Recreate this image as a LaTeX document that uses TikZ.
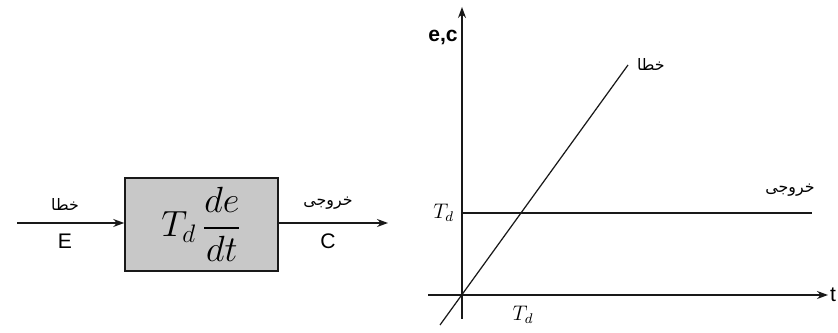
\documentclass[tikz,border=0pt]{standalone}
\usepackage{fontspec}
\usepackage{amsmath}
\usepackage{tikz}
\usetikzlibrary{arrows.meta, positioning, calc}
\setsansfont{Liberation Sans}
\newfontfamily\arabicfont[Script=Arabic]{DejaVu Sans}
\TeXXeTstate=1
\definecolor{boxgray}{RGB}{200,200,200}
\definecolor{inkdark}{RGB}{25,25,25}
\tikzset{
  sysbox/.style={rectangle, draw=inkdark, fill=boxgray, line width=0.9pt,
    minimum width=3.06cm, minimum height=1.86cm, inner sep=0pt},
  arrow/.style={-{Stealth[length=2.2mm, width=1.6mm]}, line width=0.7pt, color=inkdark},
  line/.style={line width=0.7pt, color=inkdark},
  fa/.style={font=\arabicfont\small, inner sep=1pt},
  lat/.style={font=\sffamily\large, inner sep=1pt}
}
\newcommand{\fatext}[1]{\beginR #1\endR}

\begin{document}
\begin{tikzpicture}[x=0.02cm, y=0.02cm]
  \useasboundingbox (0,0) rectangle (838,333);

  % block diagram
  \node[sysbox] (blk) at (201.5,108.5) {\huge $T_d\,\dfrac{de}{dt}$};
  \coordinate (in) at (17,110);
  \coordinate (out) at (388,110);
  \draw[arrow] (in) -- (in -| blk.west);
  \draw[arrow] (out -| blk.east) -- (out);

  \node[fa] (errin) at (65,128) {\fatext{خطا}};
  \node[lat] (ein) at (65,92) {E};
  \node[fa] (outlbl) at (328,130) {\fatext{خروجی}};
  \node[lat] (cout) at (328,92) {C};

  % time response
  \coordinate (orig) at (462,38);
  \coordinate (ytop) at (462,326);
  \coordinate (ybot) at (462,14);
  \coordinate (xleft) at (428,38);
  \coordinate (xright) at (828,38);
  \draw[arrow] (ybot) -- (ytop);
  \draw[arrow] (xleft) -- (xright);
  \node[lat, right=0pt of xright] (tlbl) {t};
  \node[lat, font=\sffamily\bfseries\large] (eclbl) at (443,296) {e,c};

  \coordinate (rampa) at (440,8);
  \coordinate (rampb) at (628,268);
  \draw[line] (rampa) -- (rampb);
  \node[fa, right=4pt of rampb] (errlbl) {\fatext{خطا}};

  \coordinate (stepa) at (462,120);
  \coordinate (stepb) at (812,120);
  \draw[line] (stepa) -- (stepb);
  \node[fa] (outcurve) at (790,143) {\fatext{خروجی}};

  \node[left=1pt of stepa, font=\large] (tdy) {$T_d$};
  \node[font=\large] (tdx) at (523,18) {$T_d$};
\end{tikzpicture}
\end{document}
